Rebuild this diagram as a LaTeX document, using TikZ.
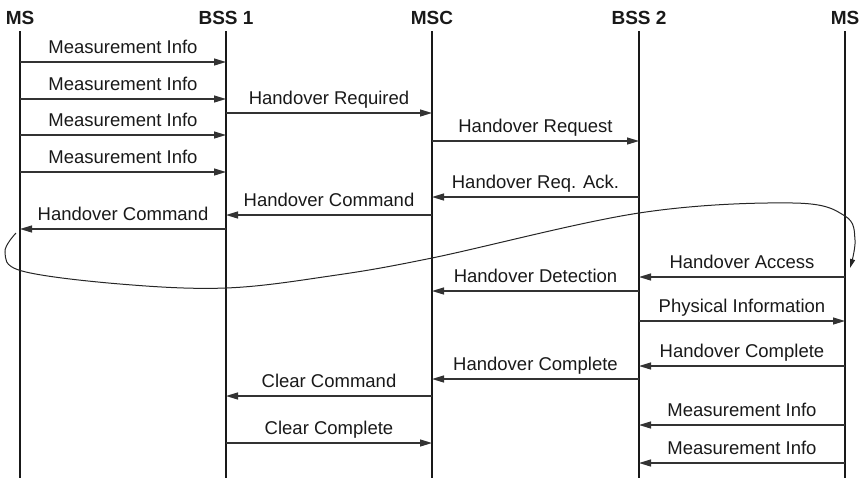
\documentclass[tikz,border=0pt]{standalone}
\usepackage{fontspec}
\setmainfont{Liberation Sans}
\usetikzlibrary{arrows.meta}
\begin{document}
\begin{tikzpicture}[x=1pt,y=-1pt,
  lifeline/.style={line width=2.7pt,draw=black!90},
  head/.style={font=\fontsize{19}{22}\selectfont\bfseries,text=black!90,inner sep=0pt},
  msg/.style={line width=1.2pt,draw=black!80,-{Triangle[length=12pt,width=7pt]}},
  lbl/.style={font=\fontsize{18.5}{22}\selectfont,text=black!90,inner sep=0pt,anchor=base}]
\useasboundingbox (0,0) rectangle (859,480);
% heads
\node[head] (ms1) at (20,18) {MS};
\node[head] (bss1) at (226,18) {BSS 1};
\node[head] (msc) at (432,18) {MSC};
\node[head] (bss2) at (639,18) {BSS 2};
\node[head] (ms2) at (845,18) {MS};
% lifelines
\foreach \n/\x in {ms1/20,bss1/226,msc/432,bss2/639,ms2/845}{
  \coordinate (\n top) at (\x,31);
  \coordinate (\n bot) at (\x,478);
  \draw[lifeline] (\n top) -- (\n bot);
}
% message macro: from, to, y, label
\newcommand{\mymsg}[4]{%
  \coordinate (s) at (#1top |- 0,#3);
  \coordinate (e) at (#2top |- 0,#3);
  \draw[msg] (s) -- (e) node[lbl,midway,yshift=9pt] {#4};
}
\mymsg{ms1}{bss1}{62}{Measurement Info}
\mymsg{ms1}{bss1}{99}{Measurement Info}
\mymsg{ms1}{bss1}{135}{Measurement Info}
\mymsg{ms1}{bss1}{172}{Measurement Info}
\mymsg{bss1}{msc}{113}{Handover Required}
\mymsg{msc}{bss2}{141}{Handover Request}
\mymsg{bss2}{msc}{197}{Handover Req. Ack.}
\mymsg{msc}{bss1}{215}{Handover Command}
\mymsg{bss1}{ms1}{229}{Handover Command}
\mymsg{ms2}{bss2}{277}{Handover Access}
\mymsg{bss2}{msc}{291}{Handover Detection}
\mymsg{bss2}{ms2}{321}{Physical Information}
\mymsg{ms2}{bss2}{366}{Handover Complete}
\mymsg{bss2}{msc}{379}{Handover Complete}
\mymsg{msc}{bss1}{396}{Clear Command}
\mymsg{bss1}{msc}{443}{Clear Complete}
\mymsg{ms2}{bss2}{425}{Measurement Info}
\mymsg{ms2}{bss2}{463}{Measurement Info}
% loop curve
\coordinate (cs) at (16,233);
\coordinate (ce) at (850,268);
\draw[line width=1pt,draw=black!85,-{Triangle[length=9pt,width=5pt]}]
  plot[smooth,tension=0.6] coordinates {(cs) (5,252) (22,271) (120,284) (226,288) (330,276) (432,258) (639,213) (793,203) (845,216) (855,240) (ce)};
\end{tikzpicture}
\end{document}
